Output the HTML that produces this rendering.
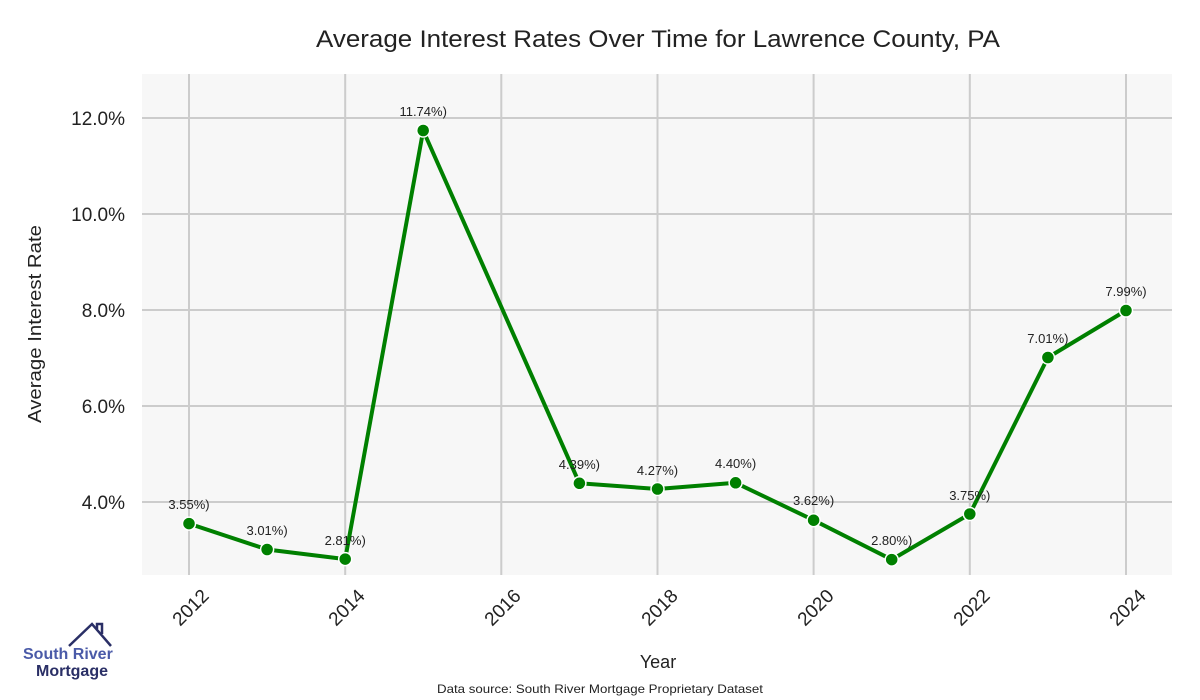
<!DOCTYPE html>
<html><head><meta charset="utf-8"><style>body{margin:0;background:#fff}svg{display:block}</style></head><body>
<svg width="1200" height="700" xmlns="http://www.w3.org/2000/svg" font-family="Liberation Sans, sans-serif">
<rect width="1200" height="700" fill="#fff"/>
<rect x="142" y="74" width="1030" height="501" fill="#f7f7f7"/>
<g stroke="#cccccc" stroke-width="2">
<line x1="189" y1="74" x2="189" y2="575"/><line x1="345.2" y1="74" x2="345.2" y2="575"/><line x1="501.3" y1="74" x2="501.3" y2="575"/><line x1="657.5" y1="74" x2="657.5" y2="575"/><line x1="813.6" y1="74" x2="813.6" y2="575"/><line x1="969.8" y1="74" x2="969.8" y2="575"/><line x1="1126" y1="74" x2="1126" y2="575"/>
<line x1="142" y1="118" x2="1172" y2="118"/><line x1="142" y1="214" x2="1172" y2="214"/><line x1="142" y1="310" x2="1172" y2="310"/><line x1="142" y1="406" x2="1172" y2="406"/><line x1="142" y1="502" x2="1172" y2="502"/>
</g>
<text x="316" y="47" font-size="24" textLength="684" lengthAdjust="spacingAndGlyphs" fill="#222">Average Interest Rates Over Time for Lawrence County, PA</text>
<g font-size="19" fill="#222" text-anchor="end">
<text x="125" y="125">12.0%</text><text x="125" y="221">10.0%</text><text x="125" y="317">8.0%</text><text x="125" y="413">6.0%</text><text x="125" y="509">4.0%</text>
</g>
<text transform="translate(41,423) rotate(-90)" font-size="18" textLength="198" lengthAdjust="spacingAndGlyphs" fill="#222">Average Interest Rate</text>
<g font-size="19" fill="#222" text-anchor="end">
<text transform="translate(210,597) rotate(-45)">2012</text>
<text transform="translate(366,597) rotate(-45)">2014</text>
<text transform="translate(522,597) rotate(-45)">2016</text>
<text transform="translate(679,597) rotate(-45)">2018</text>
<text transform="translate(835,597) rotate(-45)">2020</text>
<text transform="translate(991,597) rotate(-45)">2022</text>
<text transform="translate(1147,597) rotate(-45)">2024</text>
</g>
<text x="658" y="668" font-size="18" text-anchor="middle" fill="#222">Year</text>
<text x="437" y="693" font-size="12" textLength="326" lengthAdjust="spacingAndGlyphs" fill="#222">Data source: South River Mortgage Proprietary Dataset</text>
<polyline fill="none" stroke="#008000" stroke-width="4" stroke-linejoin="round" points="189,523.6 267.1,549.5 345.2,559.1 423.2,130.5 579.4,483.3 657.5,489 735.6,482.8 813.6,520.2 891.7,559.6 969.8,514 1047.9,357.5 1126,310.5"/>
<g fill="#008000" stroke="#fff" stroke-width="1.5">
<circle cx="189" cy="523.6" r="6.5"/><circle cx="267.1" cy="549.5" r="6.5"/><circle cx="345.2" cy="559.1" r="6.5"/><circle cx="423.2" cy="130.5" r="6.5"/><circle cx="579.4" cy="483.3" r="6.5"/><circle cx="657.5" cy="489" r="6.5"/><circle cx="735.6" cy="482.8" r="6.5"/><circle cx="813.6" cy="520.2" r="6.5"/><circle cx="891.7" cy="559.6" r="6.5"/><circle cx="969.8" cy="514" r="6.5"/><circle cx="1047.9" cy="357.5" r="6.5"/><circle cx="1126" cy="310.5" r="6.5"/>
</g>
<g font-size="13" fill="#222" text-anchor="middle">
<text x="189" y="509">3.55%)</text><text x="267.1" y="535">3.01%)</text><text x="345.2" y="545">2.81%)</text><text x="423.2" y="116">11.74%)</text><text x="579.4" y="469">4.39%)</text><text x="657.5" y="475">4.27%)</text><text x="735.6" y="468">4.40%)</text><text x="813.6" y="505">3.62%)</text><text x="891.7" y="545">2.80%)</text><text x="969.8" y="500">3.75%)</text><text x="1047.9" y="343">7.01%)</text><text x="1126" y="296">7.99%)</text>
</g>
<polyline fill="none" stroke="#2a2f66" stroke-width="2.5" points="69,646 92,624 111,646"/>
<polyline fill="none" stroke="#2a2f66" stroke-width="2.5" points="97,629 97,624 102,624 102,634"/>
<text x="23" y="659" font-size="16" font-weight="bold" fill="#4a5aa8">South River</text>
<text x="36" y="676" font-size="16" font-weight="bold" fill="#2a2f66">Mortgage</text>
</svg>
</body></html>
